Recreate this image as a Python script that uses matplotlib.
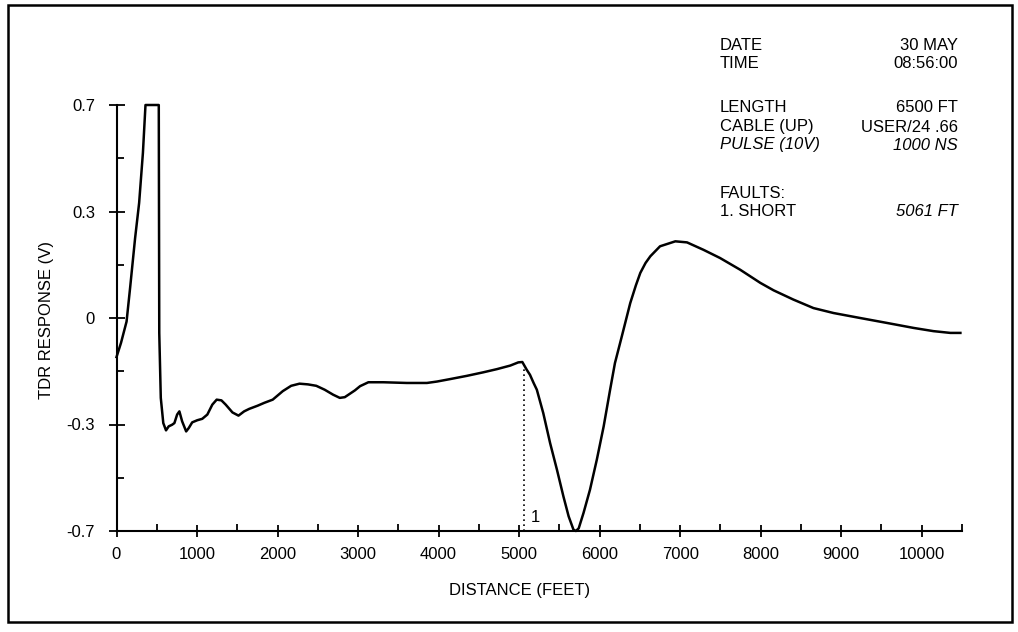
import numpy as np
import matplotlib
matplotlib.use("Agg")
import matplotlib.pyplot as plt
from matplotlib.patches import Rectangle
from matplotlib.ticker import FixedLocator, FixedFormatter, NullFormatter

plt.rcParams['font.family'] = ['Liberation Sans', 'DejaVu Sans']

# TDR trace, distance in feet, response in volts
distance = [0, 56, 125, 169, 231, 281, 328, 360, 525, 531,
            550, 581, 615, 648, 690, 719, 753, 781, 815, 865,
            898, 940, 1003, 1065, 1128, 1190, 1244, 1303, 1356, 1440,
            1515, 1585, 1648, 1753, 1835, 1940, 2065, 2169, 2273, 2378,
            2481, 2585, 2690, 2773, 2835, 2960, 3025, 3128, 3315, 3605,
            3855, 3980, 4145, 4350, 4555, 4725, 4890, 4990, 5040, 5095,
            5135, 5180, 5220, 5300, 5385, 5470, 5550, 5615, 5675, 5705,
            5740, 5800, 5880, 5965, 6050, 6130, 6190, 6275, 6380, 6450,
            6505, 6570, 6630, 6750, 6940, 7085, 7290, 7495, 7745, 7995,
            8160, 8405, 8655, 8905, 9235, 9570, 9900, 10145, 10355, 10480]
response = [-0.11, -0.07, -0.01, 0.085, 0.225, 0.332, 0.52, 0.70, 0.70, -0.042,
            -0.225, -0.296, -0.322, -0.307, -0.301, -0.296, -0.272, -0.263, -0.291, -0.326,
            -0.313, -0.294, -0.288, -0.284, -0.272, -0.244, -0.230, -0.232, -0.244, -0.266,
            -0.275, -0.263, -0.256, -0.247, -0.239, -0.230, -0.206, -0.191, -0.185, -0.187,
            -0.191, -0.202, -0.216, -0.225, -0.223, -0.204, -0.192, -0.181, -0.181, -0.183,
            -0.183, -0.179, -0.172, -0.163, -0.153, -0.144, -0.134, -0.125, -0.124, -0.146,
            -0.160, -0.183, -0.202, -0.268, -0.370, -0.470, -0.570, -0.645, -0.695, -0.70,
            -0.69, -0.632, -0.545, -0.432, -0.307, -0.202, -0.127, -0.052, 0.042, 0.092,
            0.127, 0.155, 0.174, 0.202, 0.216, 0.213, 0.192, 0.169, 0.136, 0.099,
            0.078, 0.052, 0.028, 0.014, 0.0, -0.014, -0.028, -0.037, -0.042, -0.042]

fault_distance = 5061
x_ticks = [0, 1000, 2000, 3000, 4000, 5000, 6000, 7000, 8000, 9000, 10000]
y_ticks = [-0.7, -0.3, 0, 0.3, 0.7]
y_tick_labels = ['-0.7', '-0.3', '0', '0.3', '0.7']
y_minor = [-0.5, -0.15, 0.15, 0.5]

info_left = ['DATE', 'TIME', 'LENGTH', 'CABLE (UP)', 'PULSE (10V)', 'FAULTS:', '1. SHORT']
info_right = ['30 MAY', '08:56:00', '6500 FT', 'USER/24 .66', '1000 NS', '', '5061 FT']
info_italic = [False, False, False, False, True, False, False]
info_right_italic = [False, False, False, False, True, False, True]
info_rows = [45, 63, 108, 127, 145, 193, 212]


# voltage axis: ticks evenly spaced though the labels are not
def fwd(v):
    v = np.asarray(v, dtype=float)
    a = np.abs(v)
    return np.where(a <= 0.3, v / 0.3, np.sign(v) * (1 + (a - 0.3) / 0.4))


def inv(p):
    p = np.asarray(p, dtype=float)
    a = np.abs(p)
    return np.where(a <= 1, 0.3 * p, np.sign(p) * (0.3 + 0.4 * (a - 1)))


W, H = 1018, 632
fig = plt.figure(figsize=(W / 100, H / 100), dpi=100)
ax = fig.add_axes([116.5 / W, 1 - 531 / H, (962 - 116.5) / W, (531 - 105) / H])

ax.plot(distance, response, color='black', lw=1.8, clip_on=False,
        solid_joinstyle='round')

# fault marker
fault_v = np.interp(fault_distance, distance, response)
ax.plot([fault_distance, fault_distance], [-0.7, fault_v], color='black', lw=1.2,
        ls=(0, (1, 2)))
ax.annotate('1', xy=(fault_distance, -0.7), xytext=(5, 4), textcoords='offset points',
            fontsize=12, ha='left', va='bottom')

ax.set_yscale('function', functions=(fwd, inv))
ax.set_xlim(0, 10500)
ax.set_ylim(-0.7, 0.7)

ax.xaxis.set_major_locator(FixedLocator(x_ticks))
ax.xaxis.set_minor_locator(FixedLocator([t + 500 for t in x_ticks]))
ax.yaxis.set_major_locator(FixedLocator(y_ticks))
ax.yaxis.set_major_formatter(FixedFormatter(y_tick_labels))
ax.yaxis.set_minor_locator(FixedLocator(y_minor))
ax.yaxis.set_minor_formatter(NullFormatter())

for side in ('top', 'right'):
    ax.spines[side].set_visible(False)
for side in ('left', 'bottom'):
    ax.spines[side].set_linewidth(1.5)

ax.tick_params(axis='x', which='major', direction='inout', length=9, width=1.3,
               pad=7, labelsize=12)
ax.tick_params(axis='y', which='major', direction='inout', length=11, width=1.3,
               pad=10, labelsize=12)
ax.tick_params(which='minor', direction='in', length=5, width=1.3)

fig.text(520 / W, 1 - 590 / H, 'DISTANCE (FEET)', ha='center', va='center', fontsize=12)
fig.text(47 / W, 1 - 320 / H, 'TDR RESPONSE (V)', ha='center', va='center',
         rotation=90, fontsize=12)

for lab, val, it_l, it_r, row in zip(info_left, info_right, info_italic,
                                     info_right_italic, info_rows):
    fig.text(720 / W, 1 - row / H, lab, ha='left', va='center', fontsize=12,
             style='italic' if it_l else 'normal')
    if val:
        fig.text(958 / W, 1 - row / H, val, ha='right', va='center', fontsize=12,
                 style='italic' if it_r else 'normal')

# outer frame
fig.patches.append(Rectangle((8 / W, 1 - 622 / H), (1012 - 8) / W, (622 - 5) / H,
                             transform=fig.transFigure, fill=False,
                             edgecolor='black', lw=1.8))

fig.savefig('out.png', dpi=100)
